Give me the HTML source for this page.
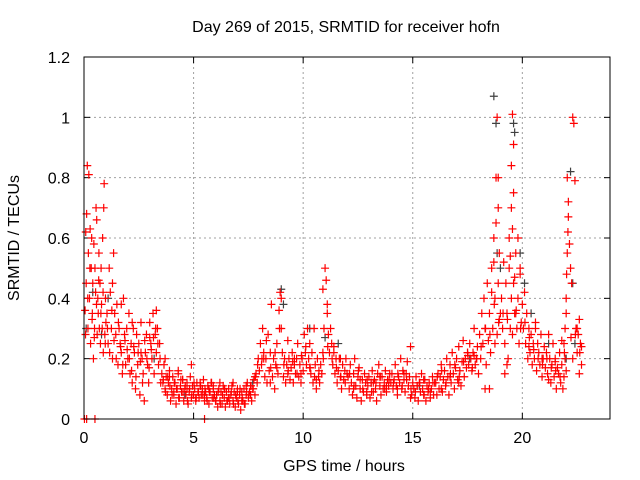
<!DOCTYPE html>
<html><head><meta charset="utf-8"><style>
body{margin:0;background:#fff;}
svg{display:block;font-family:"Liberation Sans",sans-serif;}
</style></head><body>
<svg id="chart" width="640" height="480">
<text x="346" y="32" font-size="16" text-anchor="middle">Day 269 of 2015, SRMTID for receiver hofn</text>
<text x="344" y="471" font-size="16" text-anchor="middle">GPS time / hours</text>
<text transform="translate(19,238) rotate(-90)" font-size="16" text-anchor="middle">SRMTID / TECUs</text>
<g id="grid"></g>
<g id="ticks"></g>
<g id="pts"></g>
<rect x="84" y="57" width="526" height="362" fill="none" stroke="#000" stroke-width="1"/>
</svg>
<script>
const xTicks=[0,5,10,15,20];
const yTicks=[0,0.2,0.4,0.6,0.8,1,1.2];
const yLabels=["0","0.2","0.4","0.6","0.8","1","1.2"];
const redT=[0.02,0.05,0.08,0.1,0.12,0.15,0.18,0.2,0.22,0.25,0.28,0.3,0.33,0.35,0.38,0.4,0.43,0.45,0.48,0.5,0.53,0.55,0.58,0.6,0.63,0.65,0.68,0.7,0.73,0.75,0.78,0.8,0.83,0.85,0.88,0.9,0.92,0.95,0.98,1.0,0.5,0.12,
1.05,1.1,1.15,1.2,1.25,1.3,1.35,1.4,1.45,1.5,1.55,1.6,1.65,1.7,1.75,1.8,1.85,1.9,1.95,2.0,2.05,2.1,2.15,2.2,2.25,2.3,2.35,2.4,2.45,2.5,2.55,2.6,2.65,2.7,2.75,2.8,2.85,2.9,2.95,3.0,3.05,3.1,3.15,3.2,3.25,3.3,3.35,3.4,3.45,3.5,1.3,1.7,2.2,2.6,3.0,3.3,
3.55,3.6,3.65,3.7,3.75,3.8,3.85,3.9,3.95,4.0,4.05,4.1,4.15,4.2,4.25,4.3,4.35,4.4,4.45,4.5,4.55,4.6,4.65,4.7,4.75,4.8,4.85,4.9,4.95,5.0,5.05,5.1,5.15,5.2,5.25,5.3,5.35,5.4,5.45,5.5,5.55,5.6,5.65,5.7,5.75,5.8,5.85,5.9,5.95,6.0,3.7,3.9,4.1,4.3,4.5,4.7,4.9,5.1,5.3,5.5,5.7,5.9,5.5,
6.05,6.1,6.15,6.2,6.25,6.3,6.35,6.4,6.45,6.5,6.55,6.6,6.65,6.7,6.75,6.8,6.85,6.9,6.95,7.0,7.05,7.1,7.15,7.2,7.25,7.3,7.35,7.4,7.45,7.5,7.55,7.6,7.65,7.7,7.75,7.8,7.85,7.9,7.95,8.0,6.2,6.4,6.6,6.8,7.0,7.2,7.4,7.6,7.8,
8.05,8.1,8.15,8.2,8.25,8.3,8.35,8.4,8.45,8.5,8.55,8.6,8.65,8.7,8.75,8.8,8.85,8.9,8.95,9.0,9.05,9.1,9.15,9.2,9.25,9.3,9.35,9.4,9.45,9.5,9.55,9.6,9.65,9.7,9.75,9.8,9.85,9.9,9.95,10.0,8.2,8.5,8.8,9.0,9.3,9.6,9.9,
10.05,10.1,10.15,10.2,10.25,10.3,10.35,10.4,10.45,10.5,10.55,10.6,10.65,10.7,10.75,10.8,10.85,10.9,10.95,11.0,11.05,11.1,11.15,11.2,11.25,11.3,11.35,11.4,11.45,11.5,11.55,11.6,11.65,11.7,11.75,11.8,11.85,11.9,11.95,12.0,10.3,10.6,10.9,11.1,11.4,11.7,
12.05,12.1,12.15,12.2,12.25,12.3,12.35,12.4,12.45,12.5,12.55,12.6,12.65,12.7,12.75,12.8,12.85,12.9,12.95,13.0,13.05,13.1,13.15,13.2,13.25,13.3,13.35,13.4,13.45,13.5,13.55,13.6,13.65,13.7,13.75,13.8,13.85,13.9,13.95,14.0,12.3,12.6,12.9,13.2,13.5,13.8,
14.05,14.1,14.15,14.2,14.25,14.3,14.35,14.4,14.45,14.5,14.55,14.6,14.65,14.7,14.75,14.8,14.85,14.9,14.95,15.0,15.05,15.1,15.15,15.2,15.25,15.3,15.35,15.4,15.45,15.5,15.55,15.6,15.65,15.7,15.75,15.8,15.85,15.9,15.95,16.0,14.3,14.6,14.9,15.2,15.5,15.8,
16.05,16.1,16.15,16.2,16.25,16.3,16.35,16.4,16.45,16.5,16.55,16.6,16.65,16.7,16.75,16.8,16.85,16.9,16.95,17.0,17.05,17.1,17.15,17.2,17.25,17.3,17.35,17.4,17.45,17.5,17.55,17.6,17.65,17.7,17.75,17.8,17.85,17.9,17.95,18.0,16.3,16.7,17.1,17.5,17.8,
18.05,18.1,18.15,18.2,18.25,18.3,18.35,18.4,18.45,18.5,18.55,18.6,18.65,18.7,18.75,18.8,18.85,18.9,18.95,19.0,18.8,18.85,18.9,18.6,18.7,18.3,18.5,18.9,18.95,18.75,
19.05,19.1,19.15,19.2,19.25,19.3,19.35,19.4,19.45,19.5,19.55,19.6,19.65,19.7,19.75,19.8,19.85,19.9,19.95,20.0,19.5,19.55,19.6,19.6,19.55,19.5,19.45,19.4,19.65,19.7,19.3,19.2,19.8,19.9,
20.05,20.1,20.15,20.2,20.25,20.3,20.35,20.4,20.45,20.5,20.55,20.6,20.65,20.7,20.75,20.8,20.85,20.9,20.95,21.0,21.05,21.1,21.15,21.2,21.25,21.3,21.35,21.4,21.45,21.5,21.55,21.6,21.65,21.7,21.75,21.8,21.85,21.9,21.95,22.0,20.3,20.6,20.9,21.2,21.5,21.8,
22.0,22.02,22.05,22.08,22.1,22.05,22.0,21.95,22.1,22.15,21.9,22.2,22.25,22.3,22.35,22.4,22.45,22.5,22.55,22.6,22.65,22.7,22.3,22.5,22.6,22.7];
const redV=[0.0,0.36,0.62,0.45,0.68,0.84,0.3,0.55,0.81,0.4,0.63,0.25,0.5,0.6,0.35,0.45,0.2,0.58,0.3,0.5,0.42,0.7,0.66,0.28,0.4,0.35,0.55,0.3,0.45,0.25,0.5,0.38,0.3,0.6,0.22,0.7,0.78,0.28,0.4,0.32,0.0,0.0,
0.35,0.25,0.5,0.42,0.3,0.2,0.55,0.35,0.28,0.38,0.18,0.3,0.25,0.22,0.15,0.4,0.28,0.18,0.3,0.2,0.35,0.15,0.25,0.12,0.3,0.22,0.1,0.28,0.18,0.25,0.08,0.32,0.2,0.15,0.06,0.22,0.28,0.18,0.12,0.32,0.25,0.2,0.35,0.15,0.28,0.22,0.3,0.18,0.25,0.12,0.45,0.38,0.32,0.22,0.27,0.36,
0.15,0.12,0.18,0.1,0.14,0.08,0.12,0.16,0.06,0.1,0.14,0.08,0.12,0.05,0.1,0.15,0.07,0.11,0.09,0.13,0.06,0.1,0.08,0.12,0.05,0.09,0.14,0.07,0.11,0.08,0.1,0.06,0.12,0.09,0.07,0.11,0.08,0.1,0.13,0.06,0.09,0.07,0.11,0.05,0.09,0.12,0.07,0.1,0.08,0.06,0.2,0.14,0.09,0.16,0.13,0.1,0.18,0.07,0.12,0.08,0.1,0.11,0.0,
0.08,0.04,0.1,0.06,0.09,0.05,0.11,0.07,0.04,0.09,0.06,0.1,0.05,0.08,0.11,0.06,0.09,0.04,0.07,0.1,0.05,0.08,0.03,0.09,0.06,0.1,0.05,0.08,0.12,0.07,0.09,0.11,0.06,0.1,0.13,0.08,0.15,0.12,0.2,0.16,0.12,0.1,0.07,0.12,0.09,0.06,0.11,0.08,0.14,
0.25,0.18,0.3,0.22,0.14,0.2,0.12,0.28,0.16,0.22,0.38,0.14,0.2,0.1,0.18,0.25,0.15,0.36,0.42,0.3,0.22,0.14,0.2,0.12,0.18,0.15,0.2,0.13,0.17,0.22,0.12,0.18,0.15,0.2,0.25,0.14,0.18,0.12,0.2,0.16,0.2,0.12,0.17,0.4,0.26,0.2,0.15,
0.28,0.22,0.18,0.3,0.2,0.25,0.15,0.22,0.12,0.3,0.18,0.1,0.2,0.14,0.12,0.18,0.15,0.22,0.3,0.5,0.46,0.38,0.28,0.22,0.3,0.25,0.18,0.22,0.15,0.2,0.12,0.16,0.2,0.14,0.1,0.18,0.13,0.16,0.2,0.15,0.17,0.13,0.43,0.35,0.24,0.2,
0.14,0.1,0.18,0.12,0.08,0.15,0.2,0.11,0.07,0.14,0.17,0.1,0.06,0.13,0.09,0.15,0.12,0.08,0.11,0.14,0.07,0.12,0.16,0.09,0.13,0.1,0.06,0.15,0.18,0.11,0.08,0.14,0.1,0.12,0.16,0.09,0.13,0.11,0.15,0.12,0.1,0.13,0.09,0.12,0.14,0.11,
0.15,0.1,0.13,0.18,0.11,0.08,0.14,0.12,0.2,0.1,0.16,0.13,0.09,0.15,0.19,0.11,0.14,0.24,0.08,0.12,0.1,0.07,0.14,0.11,0.06,0.12,0.09,0.15,0.1,0.08,0.13,0.06,0.11,0.09,0.12,0.07,0.1,0.14,0.08,0.12,0.1,0.15,0.07,0.11,0.13,0.09,
0.12,0.08,0.15,0.1,0.14,0.18,0.09,0.13,0.16,0.11,0.2,0.14,0.08,0.18,0.12,0.22,0.15,0.1,0.17,0.2,0.13,0.24,0.16,0.11,0.19,0.26,0.14,0.2,0.17,0.22,0.18,0.25,0.2,0.16,0.22,0.3,0.18,0.2,0.24,0.15,0.1,0.14,0.12,0.22,0.21,
0.28,0.2,0.35,0.25,0.4,0.3,0.18,0.45,0.26,0.35,0.22,0.5,0.3,0.6,0.4,0.65,0.28,0.45,0.55,0.35,0.8,1.0,0.8,0.42,0.52,0.1,0.1,0.7,0.33,0.25,
0.4,0.3,0.52,0.25,0.45,0.35,0.2,0.5,0.3,0.4,0.28,0.45,0.35,0.55,0.3,0.4,0.25,0.48,0.32,0.38,0.7,0.63,0.75,0.91,1.01,0.84,0.54,0.6,0.47,0.35,0.18,0.15,0.6,0.5,
0.3,0.42,0.25,0.35,0.2,0.3,0.22,0.28,0.18,0.25,0.2,0.3,0.16,0.25,0.22,0.18,0.28,0.14,0.2,0.24,0.17,0.22,0.15,0.28,0.2,0.12,0.18,0.25,0.14,0.2,0.1,0.17,0.15,0.22,0.12,0.18,0.1,0.14,0.2,0.16,0.24,0.32,0.2,0.13,0.19,0.26,
0.4,0.48,0.55,0.62,0.72,0.8,0.35,0.3,0.67,0.58,0.25,0.5,0.45,1.0,0.98,0.79,0.3,0.22,0.28,0.15,0.25,0.18,0.2,0.3,0.33,0.24];
const extraT=[0.07,0.17,0.27,0.37,0.47,0.57,0.67,0.77,0.87,0.97,1.07,1.17,1.27,1.37,1.47,1.57,1.67,1.77,1.87,1.97,2.07,2.17,2.27,2.37,2.47,2.57,2.67,2.77,2.87,2.97,3.07,3.17,3.27,3.37,3.47,
3.62,3.72,3.82,3.92,4.02,4.12,4.22,4.32,4.42,4.52,4.62,4.72,4.82,4.92,5.02,5.12,5.22,5.32,5.42,5.52,5.62,5.72,5.82,5.92,6.02,6.12,6.22,6.32,6.42,6.52,6.62,6.72,6.82,6.92,7.02,7.12,7.22,7.32,7.42,7.52,7.62,7.72,7.82,7.92,
8.12,8.32,8.52,8.72,8.92,9.12,9.32,9.52,9.72,9.92,10.12,10.32,10.52,10.72,10.92,11.12,11.32,11.52,11.72,11.92,
12.12,12.32,12.52,12.72,12.92,13.12,13.32,13.52,13.72,13.92,14.12,14.32,14.52,14.72,14.92,15.12,15.32,15.52,15.72,15.92,16.12,16.32,16.52,16.72,16.92,17.12,17.32,17.52,17.72,17.92,
18.12,18.32,18.52,18.72,18.92,19.12,19.32,19.72,19.92,20.12,20.32,20.52,20.72,20.92,21.12,21.32,21.52,21.72,21.92,22.22,22.42,22.62];
const extraV=[0.28,0.4,0.5,0.33,0.27,0.38,0.46,0.35,0.42,0.25,0.3,0.22,0.36,0.26,0.2,0.32,0.24,0.18,0.26,0.23,0.2,0.16,0.24,0.14,0.22,0.19,0.12,0.26,0.2,0.17,0.23,0.27,0.3,0.25,0.2,
0.13,0.09,0.14,0.11,0.08,0.12,0.1,0.07,0.13,0.09,0.11,0.06,0.1,0.08,0.12,0.07,0.09,0.11,0.08,0.1,0.06,0.09,0.12,0.07,0.06,0.09,0.05,0.08,0.1,0.06,0.07,0.09,0.05,0.08,0.06,0.1,0.07,0.05,0.09,0.08,0.11,0.1,0.14,0.18,
0.2,0.26,0.17,0.22,0.3,0.18,0.16,0.19,0.15,0.21,0.24,0.17,0.14,0.16,0.2,0.24,0.2,0.17,0.14,0.12,
0.15,0.11,0.16,0.1,0.13,0.09,0.12,0.14,0.1,0.13,0.12,0.15,0.11,0.13,0.1,0.09,0.12,0.08,0.1,0.12,0.14,0.16,0.12,0.15,0.18,0.14,0.19,0.21,0.17,0.2,
0.24,0.3,0.28,0.38,0.32,0.35,0.33,0.36,0.3,0.32,0.27,0.23,0.2,0.18,0.2,0.17,0.16,0.14,0.22,0.27,0.28,0.22];
const grayT=[0.1,0.4,0.8,1.1,3.2,4.6,7.7,9.0,9.1,10.3,11.0,11.6,13.1,15.3,17.6,18.7,18.8,18.85,19.0,19.6,19.65,19.9,20.1,20.4,21.2,22.2,22.3,22.4,22.0];
const grayV=[0.3,0.42,0.28,0.4,0.2,0.08,0.12,0.43,0.38,0.3,0.27,0.25,0.12,0.11,0.2,1.07,0.98,0.55,0.5,0.98,0.95,0.55,0.45,0.35,0.25,0.82,0.45,0.25,0.2];
const X0=84,X1=610,Y0=419,Y1=57;
function sx(t){return X0+t*(X1-X0)/24;}
function sy(v){return Y0-v*(Y0-Y1)/1.2;}
const NS='http://www.w3.org/2000/svg';
const grid=document.getElementById('grid'),ticks=document.getElementById('ticks'),pts=document.getElementById('pts');
function mk(tag,attrs,parent){const e=document.createElementNS(NS,tag);for(const k in attrs)e.setAttribute(k,attrs[k]);parent.appendChild(e);return e;}
xTicks.forEach(t=>{
 const x=sx(t);
 if(t>0){const g=mk('line',{x1:x,y1:Y0,x2:x,y2:Y1,stroke:'#a0a0a0','stroke-dasharray':'2,3'},grid);
 
 }
 mk('line',{x1:x,y1:Y0,x2:x,y2:Y0-6,stroke:'#000'},ticks);
 mk('line',{x1:x,y1:Y1,x2:x,y2:Y1+6,stroke:'#000'},ticks);
 const l=mk('text',{x:x,y:Y0+24,'font-size':16,'text-anchor':'middle'},ticks);l.textContent=String(t);
 
 
});
yTicks.forEach((v,i)=>{
 const y=sy(v);
 if(v>0&&v<1.2){const g=mk('line',{x1:X0,y1:y,x2:X1,y2:y,stroke:'#a0a0a0','stroke-dasharray':'2,3'},grid);
 
 }
 mk('line',{x1:X0,y1:y,x2:X0+6,y2:y,stroke:'#000'},ticks);
 mk('line',{x1:X1,y1:y,x2:X1-6,y2:y,stroke:'#000'},ticks);
 const l=mk('text',{x:X0-14,y:y+6,'font-size':16,'text-anchor':'end'},ticks);l.textContent=yLabels[i];
 
 
});
function plus(t,v,col,name){
 const x=sx(t),y=sy(v);
 const p=mk('path',{d:`M${x-4},${y}h8M${x},${y-4}v8`,stroke:col,'stroke-width':1.2,fill:'none'},pts);
 
 
}
grayT.forEach((t,i)=>plus(t,grayV[i],'#404040','gray-point'));
redT.forEach((t,i)=>plus(t,redV[i],'#ff0000','red-point'));
extraT.forEach((t,i)=>plus(t,extraV[i],'#ff0000','red-point'));
</script>
</body></html>
